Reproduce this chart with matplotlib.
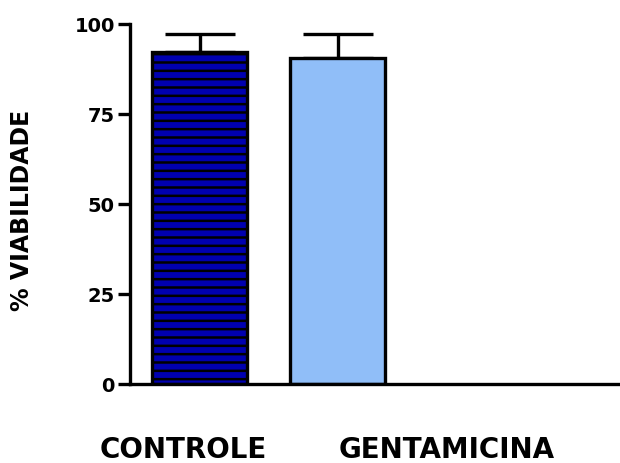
import matplotlib

matplotlib.use("Agg")
import matplotlib.pyplot as plt

groups = ["CONTROLE", "GENTAMICINA"]
viability = [92.2, 90.5]
sem = [5.0, 6.7]
bar_colors = ["#0000b0", "#90bef8"]
bar_hatches = ["--", ""]
yticks = [0, 25, 50, 75, 100]

plt.rcParams["hatch.linewidth"] = 1.8
plt.rcParams["hatch.color"] = "black"

fig = plt.figure(figsize=(6.2, 4.63), dpi=100)
ax = fig.add_axes([130 / 620, 1 - 384 / 463, 490 / 620, 360 / 463])

pos = list(range(len(groups)))
ax.errorbar(pos, viability, yerr=[[0] * len(sem), sem], fmt="none",
            ecolor="black", elinewidth=2.4, capsize=25, capthick=2.4, zorder=1)
for x, v, c, h in zip(pos, viability, bar_colors, bar_hatches):
    ax.bar(x, v, width=0.69, color=c, edgecolor="black", linewidth=2.4,
           hatch=h, zorder=2)

ax.set_xlim(-0.504, 3.047)
ax.set_ylim(0, 100)
ax.set_yticks(yticks)
ax.set_yticklabels([str(t) for t in yticks], fontsize=14, fontweight="bold")
ax.set_xticks([])
ax.tick_params(axis="y", direction="out", length=9, width=2.4, pad=2)
for s in ["top", "right"]:
    ax.spines[s].set_visible(False)
for s in ["left", "bottom"]:
    ax.spines[s].set_linewidth(2.4)

fig.text(22 / 620, 1 - 210 / 463, "% VIABILIDADE", rotation=90, ha="center",
         va="center", fontsize=17, fontweight="bold")
fig.text(183 / 620, 1 - 450 / 463, groups[0], ha="center", va="center",
         fontsize=20, fontweight="bold")
fig.text(447 / 620, 1 - 450 / 463, groups[1], ha="center", va="center",
         fontsize=20, fontweight="bold")

fig.savefig("out.png", dpi=100)
